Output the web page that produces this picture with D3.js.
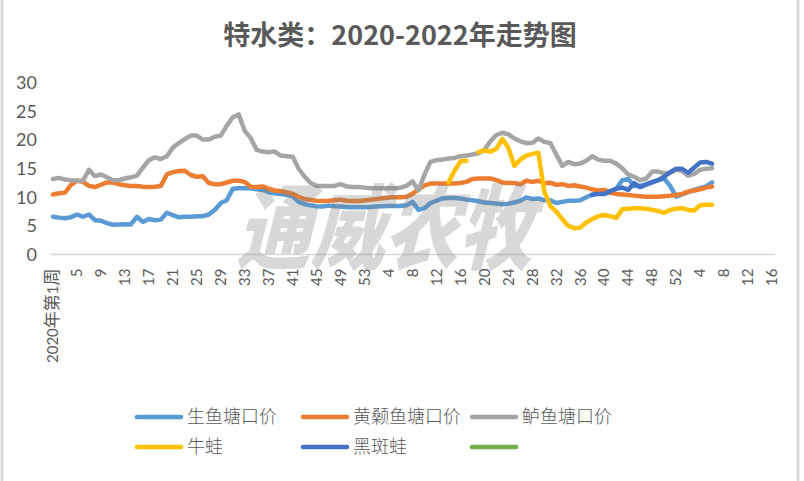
<!DOCTYPE html>
<html>
<head>
<meta charset="utf-8">
<script src="https://cdn.jsdelivr.net/npm/d3@7/dist/d3.min.js"></script>
<style>
  body { margin: 0; background: #fff; }
  svg { display: block; }
  text { font-family: Lato, "Noto Sans CJK SC", sans-serif; fill: #595959; }
</style>
</head>
<body>
<svg id="chart" width="804" height="481"></svg>
<script>
(function(){
  // weeks on the category axis: 2020 wk1-53, 2021 wk1-52, 2022 wk1-16
  var yearWeeks = [["2020", 53], ["2021", 52], ["2022", 16]];
  var yTicks = [0, 5, 10, 15, 20, 25, 30];

  var seriesNames = ["生鱼塘口价", "黄颡鱼塘口价", "鲈鱼塘口价", "牛蛙", "黑斑蛙", ""];
  var seriesColors = ["#5B9BD5", "#ED7D31", "#A5A5A5", "#FFC000", "#4472C4", "#70AD47"];

  var shengyu = [6.6, 6.45, 6.35, 6.5, 7.0, 6.6, 7.0, 6.0, 5.9, 5.5,
    5.2, 5.25, 5.3, 5.25, 6.6, 5.7, 6.2, 6.0, 6.1, 7.3,
    6.9, 6.5, 6.6, 6.6, 6.7, 6.7, 7.0, 7.8, 9.0, 9.5,
    11.5, 11.6, 11.6, 11.6, 11.4, 11.3, 10.9, 10.7, 10.6, 10.4,
    10.2, 9.2, 8.8, 8.6, 8.45, 8.4, 8.55, 8.45, 8.4, 8.25,
    8.25, 8.25, 8.25, 8.3, 8.4, 8.45, 8.5, 8.5, 8.5, 8.6,
    9.2, 7.8, 8.1, 9.0, 9.4, 9.8, 9.9, 9.9, 9.8, 9.6,
    9.5, 9.3, 9.1, 9.0, 8.9, 8.8, 8.9, 9.1, 9.4, 10.0,
    9.7, 9.8, 9.5, 9.5, 9.0, 9.2, 9.4, 9.4, 9.5, 10.0,
    10.5, 10.7, 10.7, 10.8, 11.5, 13.0, 13.2, 12.0, 12.0, 12.3,
    12.7, 13.0, 13.3, 12.0, 10.1, 10.5, 10.9, 11.3, 11.6, 11.9,
    12.6];

  var huangsang = [10.5, 10.7, 10.8, 12.2, 12.9, 12.7, 12.0, 11.8, 12.2, 12.6,
    12.6, 12.3, 12.1, 12.0, 12.0, 11.85, 11.8, 11.85, 12.0, 14.0,
    14.4, 14.6, 14.65, 13.9, 13.6, 13.7, 12.5, 12.3, 12.3, 12.6,
    12.9, 12.9, 12.7, 11.85, 11.8, 11.9, 11.5, 11.2, 11.1, 10.9,
    10.6, 10.1, 9.7, 9.55, 9.4, 9.35, 9.4, 9.5, 9.6, 9.4,
    9.35, 9.35, 9.45, 9.6, 9.7, 9.85, 9.95, 10.0, 10.0, 10.1,
    10.6, 11.4, 12.1, 12.4, 12.4, 12.4, 12.4, 12.4, 12.5, 12.7,
    13.2, 13.3, 13.3, 13.3, 13.0, 12.6, 12.5, 12.5, 12.3, 12.9,
    12.7, 12.9, 12.45, 12.55, 12.2, 12.3, 12.0, 12.1, 11.9, 11.7,
    11.4, 11.2, 11.3, 10.8, 10.6, 10.5, 10.4, 10.3, 10.2, 10.1,
    10.1, 10.1, 10.2, 10.3, 10.4, 10.6, 11.0, 11.2, 11.4, 11.7,
    11.9];

  var luyu = [13.2, 13.4, 13.1, 13.0, 12.9, 12.9, 14.8, 13.7, 14.0, 13.5,
    13.0, 13.0, 13.3, 13.5, 13.8, 15.2, 16.5, 17.0, 16.7, 17.2,
    18.7, 19.5, 20.2, 20.8, 20.8, 20.1, 20.1, 20.6, 20.8, 22.5,
    24.0, 24.5, 21.6, 20.4, 18.3, 18.0, 17.9, 18.0, 17.3, 17.2,
    17.1, 15.0, 13.6, 12.5, 12.0, 12.0, 12.0, 12.0, 12.3, 11.9,
    11.8, 11.8, 11.7, 11.6, 11.6, 11.6, 11.6, 11.6, 11.7, 12.0,
    12.8, 11.2, 14.0, 16.2, 16.5, 16.6, 16.8, 16.9, 17.2, 17.3,
    17.5, 17.7, 18.3, 19.8, 20.9, 21.3, 21.0, 20.3, 19.8, 19.5,
    19.5, 20.3, 19.7, 19.5, 17.5, 15.5, 16.2, 15.8, 15.9, 16.4,
    17.2, 16.6, 16.4, 16.4, 15.9, 15.1, 14.0, 13.6, 13.0, 13.3,
    14.5, 14.5, 14.2, 14.3, 14.8, 14.6, 13.8, 14.1, 14.8, 15.0,
    15.1];

  // 牛蛙 starts at week index 66, one missing week at index 70
  var niuwaStart = 66;
  var niuwa = [12.6, 14.6, 16.3, 16.4, null, 17.9, 18.2, 18.0, 18.5, 20.2,
    18.7, 15.5, 16.6, 17.3, 17.6, 17.8, 11.0, 8.5, 7.5, 6.2,
    5.0, 4.6, 4.7, 5.6, 6.2, 6.7, 6.9, 6.7, 6.4, 7.9,
    8.0, 8.1, 8.1, 8.0, 7.8, 7.6, 7.3, 7.8, 8.0, 8.1,
    7.8, 7.7, 8.6, 8.7, 8.7];

  // 黑斑蛙 starts at week index 90
  var heibanStart = 90;
  var heibanwa = [10.4, 10.6, 10.6, 11.1, 11.5, 11.7, 11.3, 12.5, 11.8, 12.2,
    12.6, 13.0, 13.6, 14.4, 15.0, 15.0, 14.3, 15.2, 16.1, 16.2,
    15.9];

  var categories = [];
  yearWeeks.forEach(function(yw){
    for (var w = 1; w <= yw[1]; w++) categories.push(yw[0] + "-" + w);
  });

  function padded(start, vals) {
    var out = [];
    for (var i = 0; i < start; i++) out.push(null);
    return out.concat(vals);
  }

  var seriesData = [shengyu, huangsang, luyu, padded(niuwaStart, niuwa), padded(heibanStart, heibanwa), []];

  var svg = d3.select("#chart");

  // outer frame
  svg.append("line").attr("x1", 2).attr("x2", 2).attr("y1", 0).attr("y2", 481)
    .attr("stroke", "#d9d9d9").attr("stroke-width", 3);
  svg.append("line").attr("x1", 798).attr("x2", 798).attr("y1", 0).attr("y2", 481)
    .attr("stroke", "#d9d9d9").attr("stroke-width", 3);

  svg.append("text")
    .attr("x", 400).attr("y", 45)
    .attr("text-anchor", "middle")
    .style("font-family", "'Noto Sans CJK SC', sans-serif")
    .style("font-size", "27px")
    .style("font-weight", "bold")
    .text("特水类：2020-2022年走势图");

  var x = d3.scaleBand().domain(d3.range(categories.length)).range([50, 775]);
  var y = d3.scaleLinear().domain([0, 30]).range([254.5, 83]);
  var half = x.bandwidth() / 2;

  // y labels
  svg.append("g").selectAll("text")
    .data(yTicks)
    .enter().append("text")
      .attr("x", 37)
      .attr("y", function(d) { return y(d); })
      .attr("dy", "0.35em")
      .attr("text-anchor", "end")
      .style("font-size", "18px")
      .text(function(d) { return d; });

  // category axis
  svg.append("line")
    .attr("x1", 50).attr("x2", 775)
    .attr("y1", y(0)).attr("y2", y(0))
    .attr("stroke", "#d9d9d9").attr("stroke-width", 1.3);

  var tickIdx = d3.range(0, categories.length, 4);
  var ticks = svg.append("g").selectAll("text")
    .data(tickIdx)
    .enter().append("text")
      .attr("transform", function(i) { return "translate(" + (x(i) + half) + "," + (y(0) + 14) + ") rotate(-90)"; })
      .attr("dy", "0.35em")
      .attr("text-anchor", "end")
      .style("font-size", "15px");

  ticks.each(function(i) {
    var parts = categories[i].split("-");
    var t = d3.select(this);
    if (i === 0) {
      t.append("tspan").text(parts[0]);
      t.append("tspan").style("font-size", "17px").text("年第");
      t.append("tspan").text(parts[1]);
      t.append("tspan").style("font-size", "17px").text("周");
    } else {
      t.text(parts[1]);
    }
  });

  var line = d3.line()
    .defined(function(d) { return d != null; })
    .x(function(d, i) { return x(i) + half; })
    .y(function(d) { return y(d); });

  svg.append("g").selectAll("path")
    .data(seriesData)
    .enter().append("path")
      .attr("d", function(d) { return line(d); })
      .attr("fill", "none")
      .attr("stroke", function(d, i) { return seriesColors[i]; })
      .attr("stroke-width", 4.5)
      .attr("stroke-linejoin", "round")
      .attr("stroke-linecap", "round");

  // watermark
  svg.append("text")
    .attr("transform", "translate(236,262) skewX(-14) scale(1,1.25)")
    .style("font-family", "'Noto Sans CJK SC', sans-serif")
    .style("font-size", "74px")
    .style("font-weight", "900")
    .style("fill", "#7f7f7f")
    .style("opacity", 0.3)
    .text("通威农牧");

  // legend
  var legendPos = [[137, 417], [303, 417], [472, 417], [137, 447], [303, 447], [472, 447]];
  var legend = svg.append("g").selectAll("g")
    .data(seriesNames)
    .enter().append("g")
      .attr("transform", function(d, i) { return "translate(" + legendPos[i][0] + "," + legendPos[i][1] + ")"; });

  legend.append("line")
    .attr("x1", 0).attr("x2", 44)
    .attr("stroke", function(d, i) { return seriesColors[i]; })
    .attr("stroke-width", 4.5)
    .attr("stroke-linecap", "round");

  legend.append("text")
    .attr("x", 50)
    .attr("dy", "0.35em")
    .style("font-family", "'Noto Sans CJK SC', sans-serif")
    .style("font-size", "18px")
    .style("font-weight", "300")
    .text(function(d) { return d; });
})();
</script>
</body>
</html>
